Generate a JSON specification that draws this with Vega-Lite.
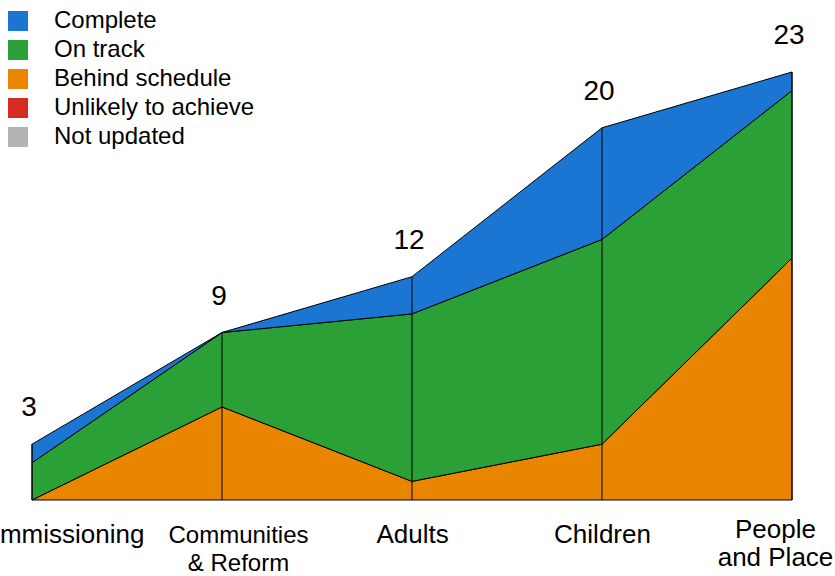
{
  "$schema": "https://vega.github.io/schema/vega-lite/v6.json",
  "autosize": {"type": "none"},
  "padding": {"left": 32, "top": 72, "right": 43, "bottom": 76},
  "width": 760,
  "height": 428,
  "background": "white",
  "config": {"view": {"stroke": null}, "font": "Liberation Sans"},
  "data": {
    "values": [
      {"category": "Commissioning", "status": "Behind schedule", "count": 0},
      {"category": "Commissioning", "status": "On track", "count": 2},
      {"category": "Commissioning", "status": "Complete", "count": 1},
      {"category": "Communities & Reform", "status": "Behind schedule", "count": 5},
      {"category": "Communities & Reform", "status": "On track", "count": 4},
      {"category": "Communities & Reform", "status": "Complete", "count": 0},
      {"category": "Adults", "status": "Behind schedule", "count": 1},
      {"category": "Adults", "status": "On track", "count": 9},
      {"category": "Adults", "status": "Complete", "count": 2},
      {"category": "Children", "status": "Behind schedule", "count": 3},
      {"category": "Children", "status": "On track", "count": 11},
      {"category": "Children", "status": "Complete", "count": 6},
      {"category": "People and Place", "status": "Behind schedule", "count": 13},
      {"category": "People and Place", "status": "On track", "count": 9},
      {"category": "People and Place", "status": "Complete", "count": 1}
    ]
  },
  "encoding": {
    "x": {
      "field": "category",
      "type": "nominal",
      "sort": ["Commissioning", "Communities & Reform", "Adults", "Children", "People and Place"],
      "scale": {"type": "point", "padding": 0},
      "axis": {
        "title": null,
        "domain": false,
        "ticks": false,
        "tickSize": 0,
        "grid": false,
        "labelAngle": 0,
        "labelOverlap": false,
        "labelFlush": false,
        "labelBound": false,
        "labelLimit": 400,
        "labelColor": "black",
        "labelFont": "Liberation Sans",
        "labelBaseline": "alphabetic",
        "labelLineHeight": 28,
        "labelFontSize": {"condition": {"test": "datum.value === 'Communities & Reform'", "value": 24}, "value": 26},
        "labelPadding": {"condition": {"test": "datum.value === 'People and Place'", "value": 37}, "value": 42},
        "labelOffset": {"condition": [
          {"test": "datum.value === 'Commissioning'", "value": 23},
          {"test": "datum.value === 'Communities & Reform'", "value": 16},
          {"test": "datum.value === 'People and Place'", "value": -17}
        ], "value": 0},
        "labelExpr": "datum.value === 'Communities & Reform' ? ['Communities', '& Reform'] : datum.value === 'People and Place' ? ['People', 'and Place'] : datum.label"
      }
    }
  },
  "layer": [
    {
      "transform": [
        {"calculate": "indexof(['Behind schedule', 'On track', 'Complete'], datum.status)", "as": "stackOrder"}
      ],
      "mark": {"type": "area", "stroke": "black", "strokeWidth": 1, "opacity": 1},
      "encoding": {
        "y": {
          "field": "count",
          "type": "quantitative",
          "stack": "zero",
          "scale": {"domain": [0, 23], "nice": false},
          "axis": null
        },
        "color": {
          "field": "status",
          "type": "nominal",
          "scale": {
            "domain": ["Complete", "On track", "Behind schedule", "Unlikely to achieve", "Not updated"],
            "range": ["#1b76d3", "#2aa037", "#ea8500", "#d62b20", "#b4b4b4"]
          },
          "legend": {
            "orient": "none",
            "legendX": -26,
            "legendY": -63,
            "title": null,
            "padding": 0,
            "symbolType": "square",
            "symbolSize": 400,
            "symbolStrokeWidth": 0,
            "symbolStrokeColor": "transparent",
            "symbolOpacity": 1,
            "labelFont": "Liberation Sans",
            "labelFontSize": 24,
            "labelColor": "black",
            "labelOffset": 24,
            "labelLimit": 400,
            "rowPadding": 5
          }
        },
        "order": {"field": "stackOrder", "type": "quantitative"}
      }
    },
    {
      "transform": [
        {"aggregate": [{"op": "sum", "field": "count", "as": "total"}], "groupby": ["category"]}
      ],
      "layer": [
        {
          "mark": {"type": "rule", "color": "black", "strokeWidth": 1},
          "encoding": {
            "y": {"field": "total", "type": "quantitative"},
            "y2": {"datum": 0}
          }
        },
        {
          "mark": {"type": "text", "fontSize": 28, "baseline": "alphabetic", "align": "center", "dy": -28, "dx": -3, "color": "black", "font": "Liberation Sans"},
          "encoding": {
            "y": {"field": "total", "type": "quantitative"},
            "text": {"field": "total", "type": "quantitative"}
          }
        }
      ]
    }
  ]
}
